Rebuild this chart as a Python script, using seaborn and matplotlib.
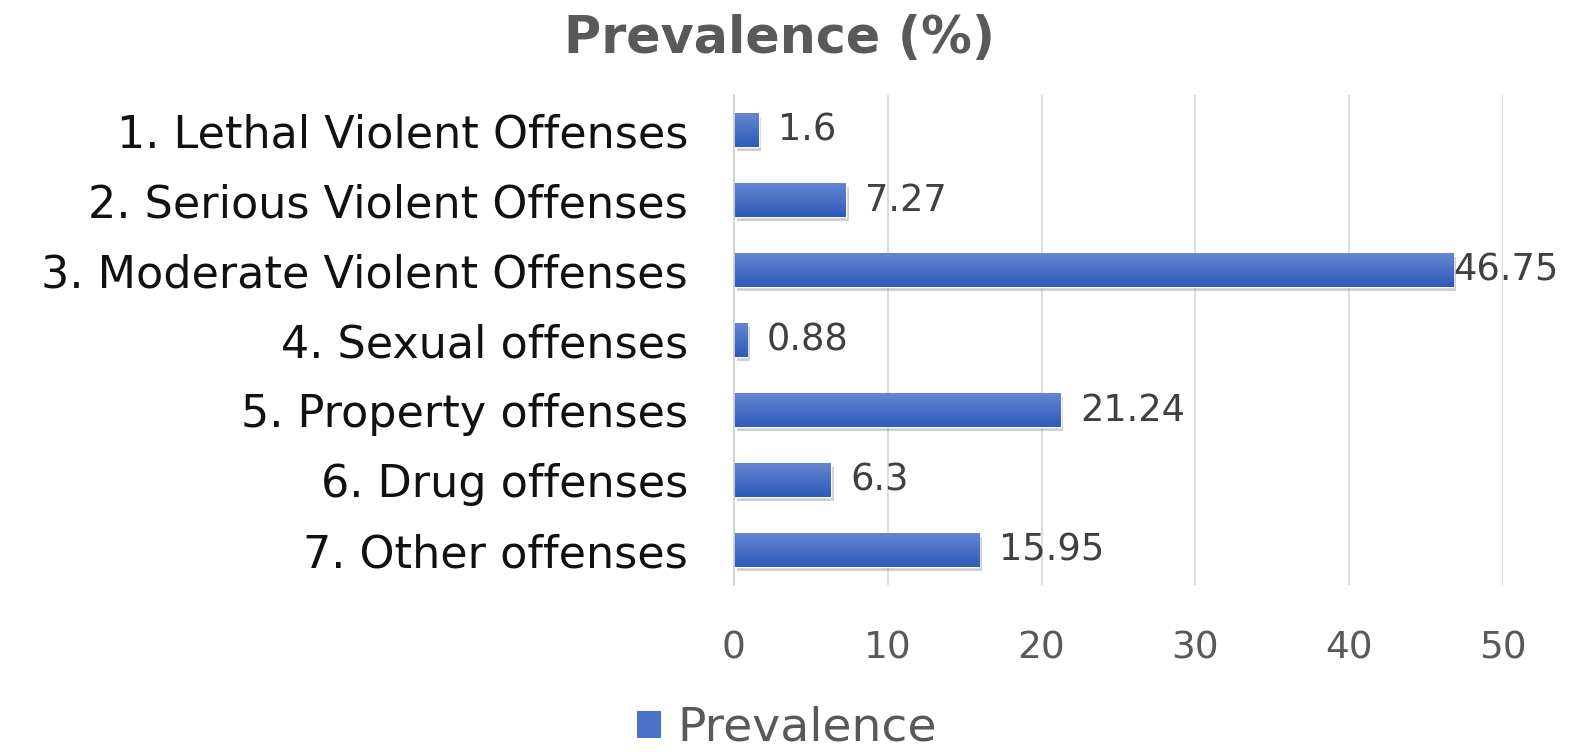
import numpy as np
import matplotlib
matplotlib.use("Agg")
import matplotlib.pyplot as plt
import matplotlib.patheffects as pe
from matplotlib.colors import LinearSegmentedColormap
from matplotlib.patches import Rectangle
import seaborn as sns
import pandas as pd

categories = [
    "1. Lethal Violent Offenses",
    "2. Serious Violent Offenses",
    "3. Moderate Violent Offenses",
    "4. Sexual offenses",
    "5. Property offenses",
    "6. Drug offenses",
    "7. Other offenses",
]
prevalence = [1.6, 7.27, 46.75, 0.88, 21.24, 6.3, 15.95]
value_labels = ["1.6", "7.27", "46.75", "0.88", "21.24", "6.3", "15.95"]
x_ticks = [0, 10, 20, 30, 40, 50]
series_name = "Prevalence"
title = "Prevalence (%)"

sns.set_theme(style="white")
plt.rcParams["font.family"] = ["DejaVu Sans"]

df = pd.DataFrame({"Offense": categories, series_name: prevalence})

fig = plt.figure(figsize=(15.77, 7.54), dpi=100)
ax = fig.add_axes([0.4654, 0.224, 0.4877, 0.650])

top_col = "#6787d3"
bot_col = "#2d5ab8"
sns.barplot(data=df, x=series_name, y="Offense", orient="h", color=bot_col,
            width=0.49, ax=ax, saturation=1)

ax.set_xlim(0, 50)
ax.set_ylim(6.5, -0.5)
ax.set_xticks(x_ticks)
ax.set_xlabel("")
ax.set_ylabel("")
ax.grid(axis="x", color="#d9d9d9", linewidth=1.3)
ax.set_axisbelow(True)
for s in ["top", "right", "bottom"]:
    ax.spines[s].set_visible(False)
ax.spines["left"].set_color("#d0d0d0")
ax.spines["left"].set_linewidth(1.3)
ax.tick_params(axis="x", length=0, pad=33, labelsize=27, labelcolor="#595959")
ax.tick_params(axis="y", length=0, pad=33, labelsize=32, labelcolor="#111111")

# vertical gradient fill with a soft drop shadow on each bar
cmap = LinearSegmentedColormap.from_list("barfill", [top_col, bot_col])
grad = np.linspace(0, 1, 256).reshape(-1, 1)
for patch in list(ax.patches):
    x0, y0 = patch.get_x(), patch.get_y()
    w, h = patch.get_width(), patch.get_height()
    patch.set_path_effects([pe.SimplePatchShadow(offset=(2, -3), shadow_rgbFace="#8a8a8a", alpha=0.4),
                            pe.Normal()])
    im = ax.imshow(grad, cmap=cmap, aspect="auto", extent=(x0, x0 + w, y0 + h, y0),
                   zorder=patch.get_zorder() + 0.1, interpolation="bilinear")
    im.set_clip_path(patch)
ax.set_xlim(0, 50)
ax.set_ylim(6.5, -0.5)

for i, (v, lab) in enumerate(zip(prevalence, value_labels)):
    off = 14 if v < 45 else 0
    ax.annotate(lab, (v, i), xytext=(off, 0), textcoords="offset points",
                va="center", ha="left", fontsize=26.5, color="#404040", zorder=5,
                annotation_clip=False)

fig.text(0.494, 0.948, title, ha="center", va="center", fontsize=36.5,
         fontweight="bold", color="#595959")

handle = Rectangle((0, 0), 1, 1, facecolor="#4a72c8", edgecolor="none")
fig.legend([handle], [series_name], loc="center", bbox_to_anchor=(0.499, 0.034),
           frameon=False, fontsize=34, handlelength=0.5, handleheight=0.5,
           handletextpad=0.35, labelcolor="#595959")

fig.savefig("out.png", dpi=100)
